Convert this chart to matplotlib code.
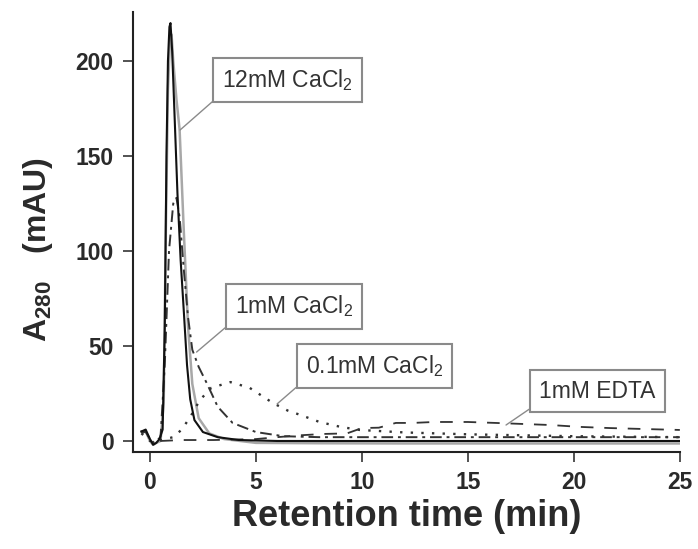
import matplotlib
matplotlib.use("Agg")
import matplotlib.pyplot as plt

plt.rcParams['font.family'] = ['Liberation Sans', 'DejaVu Sans']
plt.rcParams['mathtext.fontset'] = 'custom'
plt.rcParams['mathtext.rm'] = 'Liberation Sans'
plt.rcParams['mathtext.bf'] = 'Liberation Sans:bold'

# Chromatogram traces: retention time (min) vs A280 (mAU)
t_12mM = [-0.4, -0.2, 0.0, 0.15, 0.3, 0.45, 0.6, 0.7, 0.78, 0.85, 0.92, 0.97,
          1.05, 1.15, 1.3, 1.45, 1.6, 1.75, 1.9, 2.1, 2.5, 3.2, 4.2, 6.0, 10.0, 15.0, 20.0, 25.0]
a_12mM = [5, 6, 1, -2, -1, 1, 6, 60, 150, 200, 218, 220,
          205, 175, 130, 95, 68, 40, 22, 11, 4.7, 2, 0.5, 0, 0, 0, 0, 0]

t_12mM_b = [-0.4, -0.2, 0.0, 0.15, 0.3, 0.5, 0.65, 0.75, 0.85, 0.95, 1.02,
            1.1, 1.25, 1.4, 1.6, 1.8, 2.0, 2.3, 2.8, 3.5, 5.0, 8.0, 12.0, 18.0, 25.0]
a_12mM_b = [5, 5, 0, -2, -1, 0, 20, 110, 185, 212, 214,
            200, 180, 164, 110, 60, 30, 12, 4, 1, -1, -1.2, -1.3, -1.3, -1.3]

t_1mM = [-0.4, -0.2, 0.0, 0.2, 0.5, 0.7, 0.9, 1.1, 1.25, 1.4, 1.6, 1.8, 2.0,
         2.3, 2.7, 3.2, 3.9, 5.0, 6.3, 8.0, 10.0, 15.0, 20.0, 25.0]
a_1mM = [4, 5, 1, -1, 2, 40, 100, 125, 128, 118, 90, 65, 48,
         39, 30, 18, 9.5, 4.7, 2.5, 2, 2, 2, 2, 2]

t_01mM = [-0.4, 0.0, 0.5, 1.1, 1.5, 1.9, 2.36, 2.9, 3.8, 4.7, 5.8, 6.5, 7.1,
          8.0, 9.0, 9.9, 12.0, 15.0, 20.0, 25.0]
a_01mM = [4, 0, 0.5, 2, 6, 12.6, 21.6, 28, 31, 28, 20, 16, 13.7,
          10, 7.4, 5.8, 4.5, 3.5, 2.5, 2]

t_edta = [-0.4, -0.2, 0.0, 0.5, 1.5, 3.0, 5.0, 6.0, 7.1, 8.2, 9.3, 10.0, 10.8,
          11.6, 12.4, 13.4, 15.0, 16.3, 18.9, 20.3, 21.7, 23.3, 25.0]
a_edta = [5, 5, 1, 0, 0.5, 0.5, 1, 2, 3, 3.7, 4, 6.8, 7,
          9.5, 9.5, 10, 10, 9.5, 8.4, 7.4, 6.8, 6.3, 5.8]

x_ticks = [0, 5, 10, 15, 20, 25]
y_ticks = [0, 50, 100, 150, 200]

fig = plt.figure(figsize=(6.98, 5.49), dpi=100)
ax = fig.add_axes([0.1905, 0.1767, 0.974 - 0.1905, 0.978 - 0.1767])

ax.plot(t_12mM_b, a_12mM_b, color='#a8a8a8', lw=1.8, zorder=2)
ax.plot(t_edta, a_edta, color='#333333', lw=1.3, ls=(0, (7, 6)), zorder=3)
ax.plot(t_01mM, a_01mM, color='#333333', lw=1.7, ls=(0, (1, 3.5)), zorder=3)
ax.plot(t_1mM, a_1mM, color='#333333', lw=1.4, ls=(0, (6, 2.5, 1.5, 2.5)), zorder=3)
ax.plot(t_12mM, a_12mM, color='#111111', lw=1.5, zorder=4)

ax.set_xlim(-0.8, 25)
ax.set_ylim(-5.8, 225.8)
ax.set_xticks(x_ticks)
ax.set_yticks(y_ticks)
for s in ('top', 'right'):
    ax.spines[s].set_visible(False)
for s in ('left', 'bottom'):
    ax.spines[s].set_linewidth(1.5)
    ax.spines[s].set_color('#222222')
ax.tick_params(axis='both', direction='out', length=7, width=1.3,
               color='#444444', labelsize=16.5, labelcolor='#2a2a2a', pad=7)
for lab in ax.get_xticklabels() + ax.get_yticklabels():
    lab.set_fontweight('bold')

ax.set_xlabel('Retention time (min)', fontsize=26, fontweight='bold',
              color='#2a2a2a', labelpad=3)
ax.set_ylabel(r'A$_{\mathbf{280}}$   (mAU)', fontsize=23, fontweight='bold',
              color='#2a2a2a')
ax.yaxis.set_label_coords(-0.143, 0.46)

box = dict(boxstyle='square,pad=0.4', fc='white', ec='#8a8a8a', lw=1.5)
arrow = dict(arrowstyle='-', color='#8a8a8a', lw=1.0, relpos=(0, 0),
             shrinkA=0, shrinkB=0)
labels = [
    ('12mM CaCl$_2$', (1.42, 163.7), (6.5, 190)),
    ('1mM CaCl$_2$', (2.2, 46.8), (6.8, 70.8)),
    ('0.1mM CaCl$_2$', (6.0, 19.5), (10.6, 39.5)),
    ('1mM EDTA', (16.8, 8.4), (21.1, 26.3)),
]
for text, xy, xytext in labels:
    ax.annotate(text, xy=xy, xytext=xytext, fontsize=16.5, color='#333333',
                ha='center', va='center', bbox=box, arrowprops=arrow, zorder=6)

fig.savefig('out.png', dpi=100)
